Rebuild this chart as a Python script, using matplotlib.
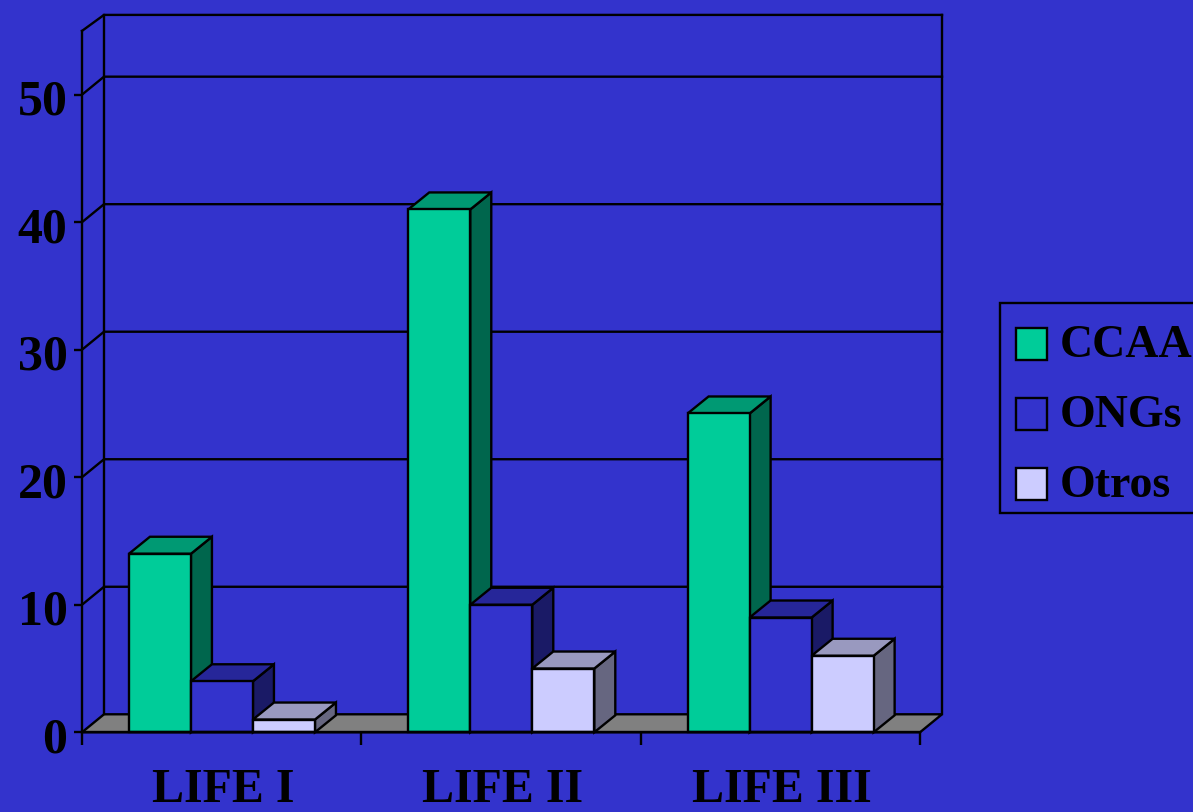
import matplotlib
matplotlib.use("Agg")
import matplotlib.pyplot as plt
from matplotlib.patches import Polygon, Patch, Rectangle
from matplotlib.transforms import ScaledTranslation

# Datos
grupos = ["LIFE I", "LIFE II", "LIFE III"]
series = ["CCAA", "ONGs", "Otros"]
ccaa = [14, 41, 25]
ongs = [4, 10, 9]
otros = [1, 5, 6]
valores_y = [0, 10, 20, 30, 40, 50]

# Colores: frente, tapa, lateral
fondo = "#3333CC"
colores = [
    ("#00CC99", "#009973", "#00664D"),
    ("#3333CC", "#262699", "#1A1A66"),
    ("#CCCCFF", "#9999BF", "#666680"),
]

W, H = 1193, 812
# 0.1 extra para que el redondeo no deje la imagen en 811 px
fig = plt.figure(figsize=(W / 100, (H + 0.1) / 100), dpi=100, facecolor=fondo)
ax = fig.add_axes([82 / W, 1 - 732.3 / H, (920 - 82) / W, (732.3 - 31) / H])
ax.patch.set_visible(False)
ax.set_xlim(0, 3)
ax.set_ylim(0, 55)

fuente = dict(family="Liberation Serif", weight="bold", color="black")
lw = 1.7

# Profundidad del 3D en unidades de datos
ux = (920 - 82) / 3
uy = (732.3 - 31) / 55
fondo_dx, fondo_dy = 22 / ux, 18 / uy
tope_dy = 16 / uy
barra_dx, barra_dy = 21 / ux, 17 / uy

# Suelo y paredes
ax.add_patch(Polygon([(0, 0), (fondo_dx, fondo_dy), (3 + fondo_dx, fondo_dy), (3, 0)],
                     facecolor="#808080", edgecolor="black", lw=lw, zorder=0.5, clip_on=False))
for v in valores_y[1:]:
    ax.plot([0, fondo_dx, 3 + fondo_dx], [v, v + fondo_dy, v + fondo_dy],
            color="black", lw=lw, zorder=0.8, clip_on=False, solid_joinstyle="miter")
ax.plot([0, fondo_dx, 3 + fondo_dx], [55, 55 + tope_dy, 55 + tope_dy],
        color="black", lw=lw, zorder=0.8, clip_on=False, solid_joinstyle="miter")
ax.plot([fondo_dx, fondo_dx], [fondo_dy, 55 + tope_dy], color="black", lw=lw, zorder=0.8, clip_on=False)
ax.plot([3 + fondo_dx, 3 + fondo_dx], [fondo_dy, 55 + tope_dy], color="black", lw=lw, zorder=0.8, clip_on=False)

# Barras
ancho = 0.222
for i in range(len(grupos)):
    inicio = i + 0.5 - 1.5 * ancho + 0.001
    for j, vals in enumerate([ccaa, ongs, otros]):
        x0 = inicio + j * ancho
        x1 = x0 + ancho
        v = vals[i]
        frente, tapa, lado = colores[j]
        ax.add_patch(Polygon([(x1, 0), (x1 + barra_dx, barra_dy), (x1 + barra_dx, v + barra_dy), (x1, v)],
                             facecolor=lado, edgecolor="black", lw=lw, zorder=1, clip_on=False))
        ax.add_patch(Polygon([(x0, v), (x0 + barra_dx, v + barra_dy), (x1 + barra_dx, v + barra_dy), (x1, v)],
                             facecolor=tapa, edgecolor="black", lw=lw, zorder=1, clip_on=False))
        ax.add_patch(Polygon([(x0, 0), (x0, v), (x1, v), (x1, 0)],
                             facecolor=frente, edgecolor="black", lw=lw, zorder=1, clip_on=False))

# Ejes
for lado in ["top", "right"]:
    ax.spines[lado].set_visible(False)
for lado in ["left", "bottom"]:
    ax.spines[lado].set_linewidth(lw)
ax.set_yticks(valores_y)
ax.set_yticklabels(valores_y, size=36, **fuente)
ax.tick_params(axis="y", length=6, width=lw, pad=4.5)
ax.set_xticks([0, 1, 2, 3])
ax.set_xticklabels([])
ax.tick_params(axis="x", which="major", length=9, width=lw)
ax.set_xticks([0.5, 1.5, 2.5], minor=True)
ax.set_xticklabels(grupos, minor=True, size=34.5, **fuente)
ax.tick_params(axis="x", which="minor", length=0, pad=25.5)

# Las etiquetas van algo desplazadas respecto a la marca
bajar = ScaledTranslation(0, -1.8 / 72, fig.dpi_scale_trans)
for etiqueta in ax.get_yticklabels():
    etiqueta.set_transform(etiqueta.get_transform() + bajar)
derecha = ScaledTranslation(1.5 / 100, 0, fig.dpi_scale_trans)
for etiqueta in ax.get_xticklabels(minor=True):
    etiqueta.set_transform(etiqueta.get_transform() + derecha)

# Leyenda: el marco se dibuja aparte para poder ajustar el alto de las filas
fig.add_artist(Rectangle((1000 / W, 1 - 513 / H), 210 / W, 210 / H, transform=fig.transFigure,
                         facecolor=fondo, edgecolor="black", lw=lw))
handles = [Patch(facecolor=c[0], edgecolor="black", lw=lw) for c in colores]
leg = fig.legend(handles, series, loc="upper left", bbox_to_anchor=(1000 / W, 1 - 309 / H),
                 bbox_transform=fig.transFigure, borderaxespad=0, frameon=False,
                 prop=dict(family="Liberation Serif", weight="bold", size=33),
                 handlelength=0.68, handleheight=0.68, handletextpad=0.28,
                 labelspacing=0.61, borderpad=0.34)
for h in leg.legend_handles:
    h.set_y(h.get_y() - 2.5)

fig.savefig("out.png", dpi=100, facecolor=fondo)
